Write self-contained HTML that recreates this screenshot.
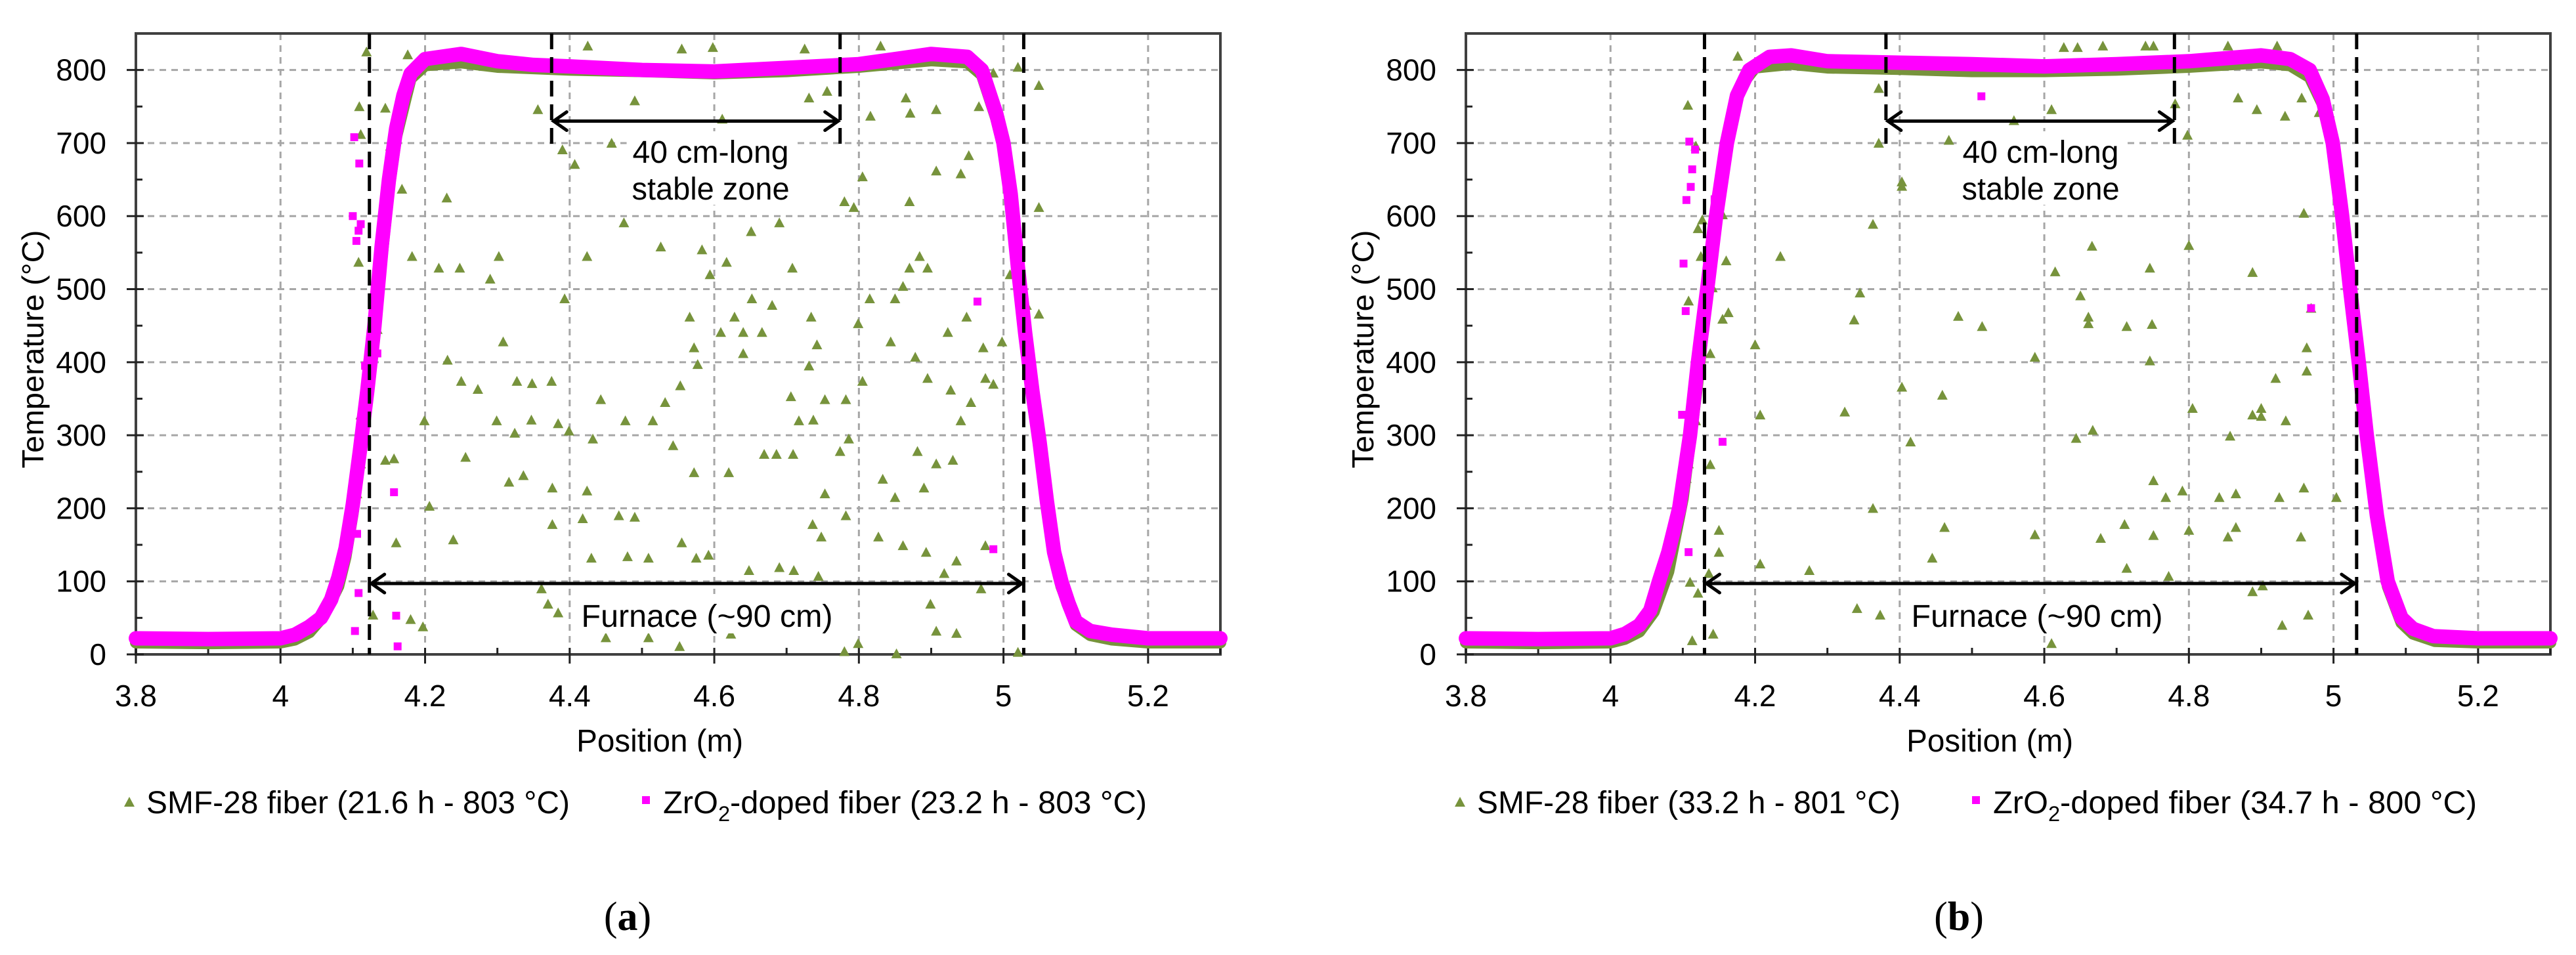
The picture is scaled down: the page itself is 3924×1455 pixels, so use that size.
<!DOCTYPE html>
<html><head><meta charset="utf-8">
<style>
html,body{margin:0;padding:0;background:#fff;}
svg{display:block;}
text{font-family:"Liberation Sans",sans-serif;fill:#000;}
</style></head>
<body>
<svg id="chart" width="3924" height="1455" viewBox="0 0 3924 1455" xmlns="http://www.w3.org/2000/svg"></svg>
<script>
// ---------- data ----------
const xTicks = [3.8, 4.0, 4.2, 4.4, 4.6, 4.8, 5.0, 5.2];
const xTickLabels = ["3.8", "4", "4.2", "4.4", "4.6", "4.8", "5", "5.2"];
const yTicks = [0, 100, 200, 300, 400, 500, 600, 700, 800];
const yTickLabels = ["0", "100", "200", "300", "400", "500", "600", "700", "800"];

// Panel (a) ZrO2 curve
const aZrX = [3.8, 3.9, 4.0, 4.02, 4.04, 4.056, 4.07, 4.08, 4.09, 4.1, 4.11, 4.12, 4.13, 4.14, 4.15, 4.16, 4.17, 4.18, 4.2, 4.25, 4.3, 4.35, 4.4, 4.5, 4.6, 4.7, 4.8, 4.85, 4.9, 4.95, 4.97, 4.99, 5.0, 5.01, 5.02, 5.03, 5.04, 5.05, 5.06, 5.07, 5.08, 5.09, 5.1, 5.12, 5.15, 5.2, 5.3];
const aZrY = [22, 21, 22, 27, 38, 50, 75, 105, 145, 205, 280, 360, 450, 560, 650, 720, 765, 795, 815, 822, 812, 807, 805, 800, 798, 803, 808, 815, 822, 818, 800, 740, 700, 630, 530, 440, 360, 290, 210, 140, 100, 70, 45, 32, 27, 22, 22];
// Panel (a) SMF-28 curve
const aSmfX = [3.8, 3.9, 4.0, 4.02, 4.04, 4.06, 4.08, 4.09, 4.1, 4.11, 4.12, 4.13, 4.14, 4.15, 4.16, 4.18, 4.2, 4.25, 4.3, 4.4, 4.5, 4.6, 4.7, 4.8, 4.9, 4.95, 4.97, 4.99, 5.0, 5.01, 5.02, 5.03, 5.04, 5.05, 5.06, 5.07, 5.08, 5.1, 5.12, 5.15, 5.2, 5.3];
const aSmfY = [18, 17, 18, 22, 32, 55, 95, 135, 195, 270, 350, 440, 545, 640, 710, 790, 808, 812, 806, 802, 800, 797, 800, 806, 815, 812, 795, 735, 695, 625, 525, 435, 355, 285, 205, 135, 95, 42, 28, 22, 18, 18];
// Panel (a) scattered SMF-28 outliers
const aSmfScX = [4.119,4.176,4.109,4.145,4.111,4.152,4.168,4.23,4.108,4.182,4.219,4.248,4.29,4.302,4.393,4.308,4.231,4.25,4.273,4.327,4.348,4.375,4.299,4.324,4.347,4.384,4.399,4.199,4.256,4.316,4.336,4.376,4.424,4.206,4.239,4.16,4.157,4.376,4.418,4.468,4.49,4.43,4.48,4.509,4.555,4.575,4.592,4.648,4.69,4.71,4.744,4.361,4.37,4.384,4.45,4.509,4.552,4.623,4.78,4.799,4.852,4.899,4.935,4.907,4.918,4.969,5.02,4.861,4.893,4.935,4.975,4.827,4.748,4.736,4.782,4.753,4.774,4.786,4.833,4.85,4.89,4.881,4.907,4.93,4.941,4.975,4.955,4.986,4.927,4.895,4.878,4.844,4.805,4.782,4.753,4.731,4.706,4.742,4.734,4.799,4.815,4.85,4.861,4.87,4.884,4.895,4.923,4.949,4.972,4.998,5.009,5.032,5.049,5.049,5.049,5.02,4.986,4.966,4.952,4.907,4.941,4.87,4.793,4.78,4.805,4.816,4.871,4.907,4.865,4.756,4.731,4.611,4.645,4.651,4.69,4.708,4.583,4.526,4.475,4.424,4.458,4.407,4.39,4.356,4.425,4.49,4.555,4.598,4.725,4.83,4.594,4.617,4.628,4.566,4.609,4.64,4.666,4.572,4.553,4.577,4.64,4.68,4.652,4.432,4.443,4.477,4.515,4.532,4.543,4.572,4.62,4.669,4.686,4.709,4.717,4.737,4.106,4.111,4.111,4.117,4.134,4.145,4.18,4.197,4.128];
const aSmfScY = [825,821,750,748,712,696,637,625,537,545,529,529,514,545,487,428,403,374,363,374,371,374,320,303,321,316,306,320,270,236,245,228,224,203,157,153,268,178,186,190,188,132,134,132,153,132,136,115,119,115,107,90,69,57,23,23,11,28,4,15,1,69,29,32,111,90,3,149,140,128,149,161,161,178,190,220,278,295,240,215,228,278,261,266,320,378,345,370,362,378,407,428,374,349,349,395,353,424,462,453,487,487,504,529,545,529,441,462,420,428,520,478,466,612,779,804,796,750,683,662,658,620,612,620,654,737,741,746,762,771,762,733,633,579,591,529,554,558,591,545,700,671,691,746,833,758,829,831,829,833,520,537,462,462,441,441,441,420,368,397,412,478,487,295,349,320,320,345,286,249,249,274,274,274,320,321,220,261,328,362,445,266,48,38,54];
// Panel (a) scattered ZrO2 outliers
const aZrScX = [4.102,4.109,4.1,4.111,4.105,4.108,4.134,4.117,4.157,4.106,4.108,4.103,4.16,4.162,4.964,4.986];
const aZrScY = [708,672,600,589,566,580,412,395,222,165,84,32,53,11,483,144];

// Panel (b) ZrO2 curve
const bZrX = [3.8, 3.9, 4.0, 4.02, 4.04, 4.055, 4.067, 4.08, 4.095, 4.11, 4.121, 4.135, 4.146, 4.161, 4.175, 4.192, 4.22, 4.25, 4.3, 4.4, 4.5, 4.6, 4.7, 4.8, 4.9, 4.94, 4.967, 4.985, 4.999, 5.012, 5.023, 5.035, 5.046, 5.06, 5.075, 5.094, 5.11, 5.138, 5.2, 5.3];
const bZrY = [22, 21, 22, 28, 40, 60, 100, 140, 200, 300, 400, 510, 600, 700, 765, 800, 818, 820, 812, 810, 808, 805, 808, 812, 820, 815, 800, 760, 700, 600, 500, 400, 300, 190, 100, 50, 35, 25, 22, 22];
// Panel (b) SMF-28 curve
const bSmfX = [3.8, 3.9, 4.0, 4.02, 4.04, 4.06, 4.08, 4.1, 4.12, 4.14, 4.16, 4.18, 4.2, 4.25, 4.3, 4.4, 4.5, 4.6, 4.7, 4.8, 4.9, 4.94, 4.967, 4.985, 5.0, 5.012, 5.023, 5.035, 5.046, 5.06, 5.075, 5.094, 5.11, 5.14, 5.2, 5.3];
const bSmfY = [18, 17, 18, 23, 33, 60, 115, 215, 370, 560, 700, 780, 805, 810, 805, 803, 800, 800, 802, 806, 812, 808, 792, 755, 690, 595, 495, 395, 295, 185, 95, 45, 30, 20, 18, 18];
// Panel (b) scattered SMF-28 outliers
const bSmfScX = [4.107,4.118,4.121,4.127,4.125,4.108,4.127,4.141,4.138,4.155,4.163,4.16,4.155,4.116,4.112,4.118,4.107,4.108,4.105,4.138,4.15,4.15,4.136,4.11,4.121,4.113,4.142,4.207,4.275,4.341,4.373,4.445,4.363,4.462,4.587,4.61,4.678,4.714,4.711,4.751,4.772,4.8,4.854,4.865,4.842,4.865,4.791,4.768,4.751,4.925,4.959,5.004,4.955,4.888,4.902,4.929,4.965,4.857,4.888,4.9,4.9,4.934,4.92,4.963,4.963,4.969,4.805,4.644,4.667,4.587,4.403,4.415,4.459,4.324,4.207,4.2,4.337,4.345,4.481,4.514,4.615,4.65,4.661,4.661,4.714,4.749,4.746,4.746,4.666,4.8,4.888,4.959,4.235,4.363,4.403,4.403,4.371,4.371,4.61,4.558,4.798,4.781,4.868,4.894,4.933,4.956,4.98,4.627,4.646,4.681,4.74,4.751,4.854,4.922,4.176,4.468];
const bSmfScY = [752,696,583,595,545,484,474,502,412,459,468,539,602,378,347,320,282,261,241,260,170,140,111,99,84,19,28,124,115,63,54,132,200,174,164,15,159,118,178,163,107,170,161,174,215,220,224,215,238,215,228,215,161,86,94,40,54,299,328,337,326,320,378,388,420,474,337,296,307,407,366,291,355,332,328,424,458,495,463,449,524,491,462,453,449,452,402,529,559,560,523,604,545,589,647,641,775,700,746,731,711,754,762,746,737,762,742,831,831,833,833,833,833,833,819,704];
// Panel (b) scattered ZrO2 outliers
const bZrScX = [4.109,4.117,4.113,4.111,4.105,4.101,4.104,4.099,4.108,4.155,4.513,4.969,4.121,4.121,4.138,4.144];
const bZrScY = [702,691,664,640,622,535,470,328,140,291,764,474,412,395,537,623];

// ---------- drawing ----------
const NS = "http://www.w3.org/2000/svg";
const svg = document.getElementById("chart");
function mk(tag, attrs, parent) {
  const e = document.createElementNS(NS, tag);
  for (const k in attrs) e.setAttribute(k, attrs[k]);
  (parent || svg).appendChild(e);
  return e;
}
const GREEN = "#77933C", MAG = "#FF00FF";

function drawPanel(P) {
  const g = mk("g", {});
  
  
  const X = v => P.x0 + (v - 3.8) / 1.5 * (P.x1 - P.x0);
  const Y = v => P.yb - v / 850 * (P.yb - P.yt);

  // grid
  const grid = mk("g", {stroke: "#A6A6A6", "stroke-width": 3, "stroke-dasharray": "10 8", fill: "none"}, g);
  
  
  yTicks.forEach(t => { if (t > 0) mk("line", {x1: P.x0, x2: P.x1, y1: Y(t), y2: Y(t)}, grid); });
  xTicks.forEach(t => { if (t > 3.8) mk("line", {x1: X(t), x2: X(t), y1: P.yt, y2: P.yb}, grid); });

  // frame
  const fr = mk("rect", {x: P.x0, y: P.yt, width: P.x1 - P.x0, height: P.yb - P.yt, fill: "none", stroke: "#404040", "stroke-width": 4}, g);
  
  

  // ticks
  const tk = mk("g", {stroke: "#222", "stroke-width": 3}, g);
  
  
  yTicks.forEach(t => mk("line", {x1: P.x0 - 14, x2: P.x0 + 12, y1: Y(t), y2: Y(t)}, tk));
  yTicks.forEach(t => { if (t < 800) mk("line", {x1: P.x0, x2: P.x0 + 10, y1: Y(t + 50), y2: Y(t + 50)}, tk); });
  xTicks.forEach(t => mk("line", {x1: X(t), x2: X(t), y1: P.yb - 10, y2: P.yb + 14}, tk));
  xTicks.forEach(t => mk("line", {x1: X(t + 0.1), x2: X(t + 0.1), y1: P.yb - 10, y2: P.yb}, tk));

  // tick labels
  yTicks.forEach((t, i) => {
    const e = mk("text", {x: P.x0 - 45, y: Y(t) + 16, "font-size": 46, "text-anchor": "end"}, g);
    
    
    e.textContent = yTickLabels[i];
  });
  xTicks.forEach((t, i) => {
    const e = mk("text", {x: X(t), y: P.yb + 79, "font-size": 46, "text-anchor": "middle"}, g);
    
    
    e.textContent = xTickLabels[i];
  });

  // axis titles
  const yt = mk("text", {x: 0, y: 0, "font-size": 46, "text-anchor": "middle", transform: `translate(${P.x0 - 141},${(P.yt + P.yb) / 2 + 8}) rotate(-90)`, textLength: 363, lengthAdjust: "spacingAndGlyphs"}, g);
  
  
  yt.textContent = "Temperature (°C)";
  const xt = mk("text", {x: X(4.6) - 83 + P.xtShift, y: 1145, "font-size": 48, "text-anchor": "middle", textLength: 254, lengthAdjust: "spacingAndGlyphs"}, g);
  
  
  xt.textContent = "Position (m)";

  // curves
  const line = (xs, ys, color, w, dy, name) => {
    const pts = xs.map((v, i) => X(v).toFixed(1) + "," + (Y(ys[i]) + dy).toFixed(1)).join(" ");
    const p = mk("polyline", {points: pts, fill: "none", stroke: color, "stroke-width": w, "stroke-linejoin": "round", "stroke-linecap": "round"}, g);
    
    
  };
  line(P.smfX, P.smfY, GREEN, 18, 2, 'smf28-curve');

  // scattered triangles
  const tri = mk("g", {fill: GREEN}, g);
  
  
  P.smfScX.forEach((v, i) => {
    const cx = X(v), cy = Y(P.smfScY[i]);
    const t = mk("path", {d: `M${cx - 8},${cy + 7}L${cx + 8},${cy + 7}L${cx},${cy - 8}Z`}, tri);
    
    
  });

  line(P.zrX, P.zrY, MAG, 22, 0, 'zro2-curve');

  const sq = mk("g", {fill: MAG}, g);
  
  
  P.zrScX.forEach((v, i) => {
    const r = mk("rect", {x: X(v) - 6, y: Y(P.zrScY[i]) - 6, width: 12, height: 12}, sq);
    
    
  });

  // dashed furnace / stable lines
  const dl = mk("g", {stroke: "#000", "stroke-width": 5, "stroke-dasharray": "24 12"}, g);
  
  
  mk("line", {x1: X(P.f0), x2: X(P.f0), y1: P.yt, y2: P.yb}, dl);
  mk("line", {x1: X(P.f1), x2: X(P.f1), y1: P.yt, y2: P.yb}, dl);
  mk("line", {x1: X(P.s0), x2: X(P.s0), y1: P.yt, y2: Y(695)}, dl);
  mk("line", {x1: X(P.s1), x2: X(P.s1), y1: P.yt, y2: Y(695)}, dl);

  // arrows
  const arrow = (a, b, yv, name) => {
    const ag = mk("g", {stroke: "#000", "stroke-width": 5, fill: "none", "stroke-linecap": "round"}, g);
    
    
    const xa = X(a) + 3, xb = X(b) - 3, yy = Y(yv);
    mk("line", {x1: xa, x2: xb, y1: yy, y2: yy}, ag);
    mk("polyline", {points: `${xa + 20},${yy - 14} ${xa},${yy} ${xa + 20},${yy + 14}`}, ag);
    mk("polyline", {points: `${xb - 20},${yy - 14} ${xb},${yy} ${xb - 20},${yy + 14}`}, ag);
  };
  arrow(P.f0, P.f1, 97, 'furnace-arrow');
  arrow(P.s0, P.s1, 730, 'stable-zone-arrow');

  // annotations
  const bg = mk("rect", {x: X(4.595) - 128, y: 200, width: 256, height: 112, fill: "#fff"}, g);
  
  
  const t1 = mk("text", {x: X(4.595), y: 248, "font-size": 48, "text-anchor": "middle", textLength: 238, lengthAdjust: "spacingAndGlyphs"}, g);
  
  
  t1.textContent = "40 cm-long";
  const t2 = mk("text", {x: X(4.595), y: 304, "font-size": 48, "text-anchor": "middle", textLength: 240, lengthAdjust: "spacingAndGlyphs"}, g);
  
  
  t2.textContent = "stable zone";
  const bg2 = mk("rect", {x: X(4.59) - 198, y: 905, width: 396, height: 60, fill: "#fff"}, g);
  
  
  const t3 = mk("text", {x: X(4.59), y: 955, "font-size": 48, "text-anchor": "middle", textLength: 383, lengthAdjust: "spacingAndGlyphs"}, g);
  
  
  t3.textContent = "Furnace (~90 cm)";

  // legend
  const lg = mk("g", {}, g);
  
  
  const lt = mk("path", {d: `M${P.lg1 - 34},${1229}L${P.lg1 - 18},${1229}L${P.lg1 - 26},${1214}Z`, fill: GREEN}, lg);
  
  
  const l1 = mk("text", {x: P.lg1, y: 1239, "font-size": 48, textLength: 645, lengthAdjust: "spacingAndGlyphs"}, lg);
  
  
  l1.textContent = P.leg1;
  const ls = mk("rect", {x: P.lg2 - 32, y: 1213, width: 12, height: 12, fill: MAG}, lg);
  
  
  const l2 = mk("text", {x: P.lg2, y: 1239, "font-size": 48, textLength: 737, lengthAdjust: "spacingAndGlyphs"}, lg);
  
  
  const s1 = mk("tspan", {}, l2); s1.textContent = "ZrO";
  const s2 = mk("tspan", {dy: 12, "font-size": 32}, l2); s2.textContent = "2";
  const s3 = mk("tspan", {dy: -12}, l2); s3.textContent = P.leg2;

  // caption
  const cap = mk("text", {x: P.capX, y: 1417, "font-size": 62, "text-anchor": "middle", style: "font-family:'Liberation Serif',serif"}, g);
  
  
  const c1 = mk("tspan", {}, cap); c1.textContent = "(";
  const c2 = mk("tspan", {"font-weight": "bold"}, cap); c2.textContent = P.cap;
  const c3 = mk("tspan", {}, cap); c3.textContent = ")";
}

drawPanel({name: 'panel-a', x0: 207, x1: 1859, yt: 51, yb: 997, xtShift: 0,
  zrX: aZrX, zrY: aZrY, smfX: aSmfX, smfY: aSmfY, smfScX: aSmfScX, smfScY: aSmfScY, zrScX: aZrScX, zrScY: aZrScY,
  f0: 4.123, f1: 5.028, s0: 4.375, s1: 4.774,
  lg1: 223, lg2: 1010, leg1: "SMF-28 fiber (21.6 h - 803 °C)", leg2: "-doped fiber (23.2 h - 803 °C)", capX: 956, cap: "a"});
drawPanel({name: 'panel-b', x0: 2233, x1: 3885, yt: 51, yb: 997, xtShift: 0,
  zrX: bZrX, zrY: bZrY, smfX: bSmfX, smfY: bSmfY, smfScX: bSmfScX, smfScY: bSmfScY, zrScX: bZrScX, zrScY: bZrScY,
  f0: 4.13, f1: 5.032, s0: 4.381, s1: 4.78,
  lg1: 2250, lg2: 3036, leg1: "SMF-28 fiber (33.2 h - 801 °C)", leg2: "-doped fiber (34.7 h - 800 °C)", capX: 2984, cap: "b"});
</script>
</body></html>
